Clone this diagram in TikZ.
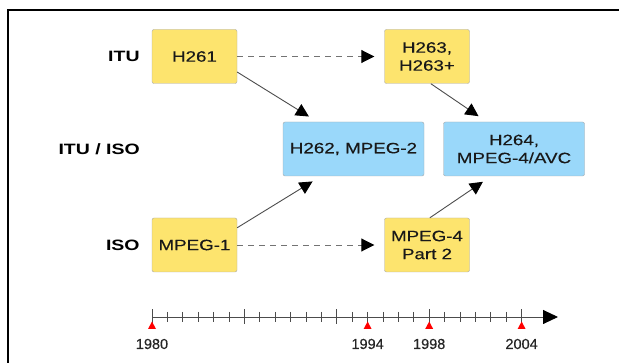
\documentclass[tikz,border=0pt]{standalone}
\usepackage{fontspec}
\setmainfont{Liberation Sans}
\newfontfamily\boxfont[FakeStretch=1.25,FakeBold=0.4]{Liberation Sans}
\newfontfamily\rowfont[FakeStretch=1.3]{Liberation Sans}
\newfontfamily\yearfont[FakeBold=0.3]{Liberation Sans}
\usetikzlibrary{positioning,arrows.meta}
\definecolor{stdyellow}{HTML}{FDE46E}
\definecolor{stdblue}{HTML}{9AD8FA}
\definecolor{boxline}{HTML}{A8A8A8}
\tikzstyle{block} = [rectangle, draw=boxline, rounded corners=2pt, align=center, inner sep=0pt, text=black!90, font=\boxfont\fontsize{15}{18}\selectfont]
\tikzstyle{single} = [block, fill=stdyellow, minimum width=85pt, minimum height=54pt]
\tikzstyle{joint} = [block, fill=stdblue, minimum width=141pt, minimum height=54pt]
\tikzstyle{body} = [anchor=east, inner sep=0pt, font=\rowfont\bfseries\fontsize{15}{18}\selectfont]
\tikzstyle{link} = [draw=black!70, line width=0.9pt, -{Triangle[length=13pt,width=13pt,color=black]}, shorten >=10pt]
\tikzstyle{later} = [link, draw=black!55, dash pattern=on 6pt off 5pt]
\tikzstyle{tick} = [draw=black!70, line width=0.9pt]
\tikzstyle{year} = [inner sep=0pt, text=black!85, font=\yearfont\fontsize{14.5}{16}\selectfont]

\begin{document}
\begin{tikzpicture}[x=1pt, y=-1pt]
\useasboundingbox (0,0) rectangle (619,363);
\draw[line width=1.5pt] (619,10) -- (8,10) -- (8,363);

\node[single] (h261) at (194.5,56.5) {H261};
\node[single, right of=h261, node distance=232.5pt] (h263) {H263,\\H263+};
\node[single, below of=h261, node distance=188.5pt] (mpeg1) {MPEG-1};
\node[single, right of=mpeg1, node distance=232.5pt] (mpeg4) {MPEG-4\\Part 2};
\node[joint] (h262) at (353.5,149) {H262, MPEG-2};
\node[joint, right of=h262, node distance=160.5pt] (h264) {H264,\\MPEG-4/AVC};

\node[body, left=12pt of h261] (itu) {ITU};
\node[body] (ituiso) at (140,149) {ITU / ISO};
\node[body, left=12pt of mpeg1] (iso) {ISO};

\draw[later] (h261) -- (h263);
\draw[later] (mpeg1) -- (mpeg4);
\draw[link] (h261.-20) -- (h262.143);
\draw[link] (h263.278) -- (h264.135);
\draw[link] (mpeg1.22) -- (h262.220);
\draw[link] (mpeg4.84) -- (h264.230);

\coordinate (t0) at (152,317);
\coordinate (tend) at (558,317);
\draw[tick, -{Triangle[length=15pt,width=14pt,color=black]}] (t0) -- (tend);
\foreach \k in {0,...,24}
  \draw[tick] ({152+15.4*\k},312) -- ({152+15.4*\k},322);
\foreach \k in {0,6,...,24}
  \draw[tick] ({152+15.4*\k},309.5) -- ({152+15.4*\k},324.5);
\foreach \yr in {1980,1994,1998,2004} {
  \fill[red] ({152+15.4*(\yr-1980)},321.5) -- ++(-4,7.5) -- ++(8,0) -- cycle;
  \node[year] (y\yr) at ({152+15.4*(\yr-1980)},344) {\yr};
}
\end{tikzpicture}
\end{document}
